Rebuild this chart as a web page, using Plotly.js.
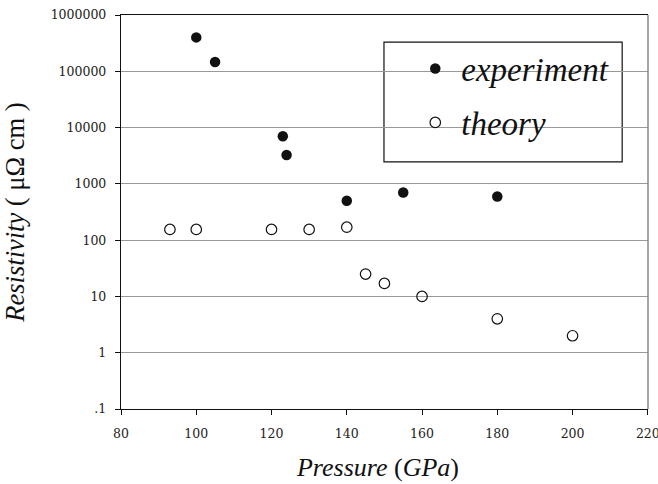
<!DOCTYPE html>
<html>
<head>
<meta charset="utf-8">
<script src="https://cdn.plot.ly/plotly-3.0.1.min.js"></script>
<style>html,body{margin:0;padding:0;background:#fff}#chart{width:658px;height:484px}</style>
</head>
<body>
<div id="chart"></div>
<script>
// Experiment data
const expPressure = [100, 105, 123, 124, 140, 155, 180];
const expResistivity = [400000, 146000, 7000, 3260, 500, 700, 595];
// Theory data
const thPressure = [93, 100, 120, 130, 140, 145, 150, 160, 180, 200];
const thResistivity = [155, 155, 155, 155, 170, 25, 17, 10, 4, 2];
// Axis ticks
const yTickVals = [0.1, 1, 10, 100, 1000, 10000, 100000, 1000000];
const yTickText = ['.1', '1', '10', '100', '1000', '10000', '100000', '1000000'];
const xTickVals = [80, 100, 120, 140, 160, 180, 200, 220];

const serif = 'Liberation Serif';
const tickFont = {family: 'DejaVu Serif', size: 12.5, color: '#222'};

const traces = [
  {
    x: expPressure, y: expResistivity, type: 'scatter', mode: 'markers',
    name: 'experiment', legendgroup: 'a',
    marker: {symbol: 'circle', size: 10.5, color: '#111', line: {width: 0}}
  },
  {
    x: thPressure, y: thResistivity, type: 'scatter', mode: 'markers',
    name: 'theory', legendgroup: 'b',
    marker: {symbol: 'circle-open', size: 10.5, color: '#111', line: {width: 1.2}}
  }
];

const layout = {
  width: 658, height: 484,
  margin: {l: 121, r: 10, t: 15, b: 75},
  paper_bgcolor: '#fff', plot_bgcolor: '#fff',
  showlegend: true,
  legend: {
    x: 0.547, y: 0.935, xanchor: 'left', yanchor: 'top',
    bgcolor: 'rgba(0,0,0,0)', borderwidth: 0,
    font: {family: serif, size: 33, style: 'italic', color: '#111'},
    tracegroupgap: 8, itemsizing: 'trace', itemwidth: 42
  },
  xaxis: {
    range: [80, 220.05], tickvals: xTickVals, ticktext: xTickVals.map(String),
    showgrid: false, zeroline: false,
    showline: true, linecolor: '#111', linewidth: 1.2, mirror: true,
    ticks: 'outside', ticklen: 5, tickcolor: '#111', tickwidth: 1,
    tickfont: tickFont, ticklabeloverflow: 'allow', ticklabelstandoff: 8,
    title: {text: '<i>Pressure</i> (<i>GPa</i>)&nbsp;&nbsp;', font: {family: serif, size: 26, color: '#111'}, standoff: 17}
  },
  yaxis: {
    type: 'log', range: [-1, 6], tickvals: yTickVals, ticktext: yTickText,
    showgrid: true, gridcolor: '#999', gridwidth: 1.2, zeroline: false,
    showline: true, linecolor: '#111', linewidth: 1.2,
    ticks: 'outside', ticklen: 5, tickcolor: '#111', tickwidth: 1,
    tickfont: tickFont, ticklabelstandoff: 6,
    title: {text: '<i>Resistivity</i> ( μΩ cm )', font: {family: serif, size: 26.5, color: '#111'}, standoff: 28}
  },
  shapes: [
    {type: 'line', xref: 'paper', yref: 'paper', x0: 1, x1: 1, y0: 0, y1: 1,
     line: {color: '#888', width: 1.5}},
    {type: 'rect', xref: 'paper', yref: 'paper', x0: 0.499, x1: 0.951, y0: 0.627, y1: 0.931,
     line: {color: '#111', width: 1.2}, fillcolor: '#fff', layer: 'below'}
  ]
};

Plotly.newPlot('chart', traces, layout, {displayModeBar: false, staticPlot: true});
</script>
</body>
</html>
